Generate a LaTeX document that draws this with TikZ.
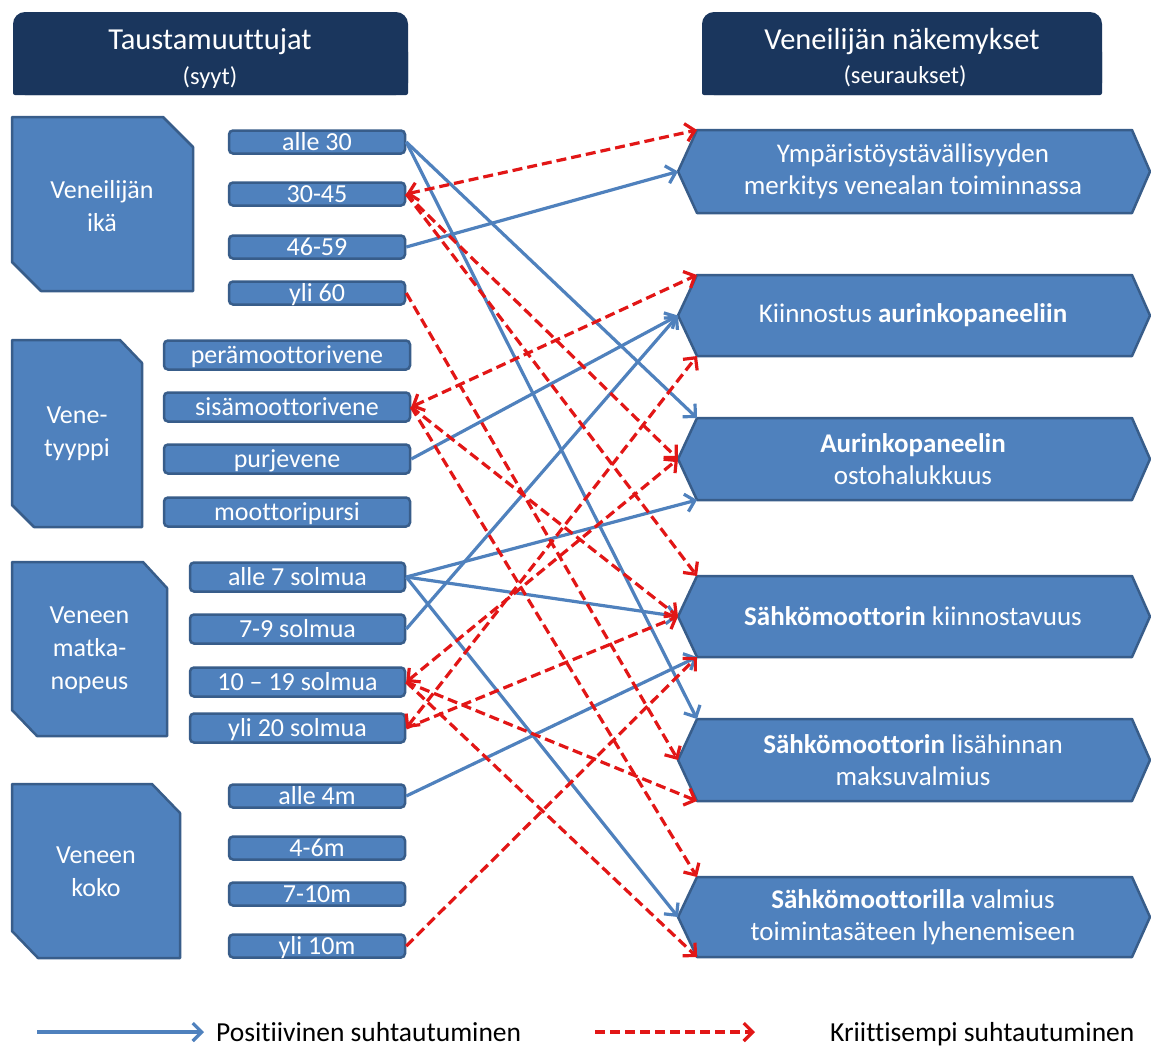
\documentclass[tikz,border=0pt]{standalone}
\usepackage{fontspec}
\setmainfont{Carlito}[Ligatures=CommonOff]
\usetikzlibrary{arrows.meta}
\definecolor{boxblue}{RGB}{79,129,189}
\definecolor{boxedge}{RGB}{56,93,138}
\definecolor{navyfill}{RGB}{26,54,93}
\definecolor{linkblue}{RGB}{79,129,189}
\definecolor{linkred}{RGB}{226,22,22}
\newcommand{\chevbox}[4]{%
  \pgfmathsetmacro\chevmid{(#2+#3)/2}%
  \filldraw[rshape] (678,\chevmid) -- (697,#2) -- (1132,#2) -- (1150,\chevmid) -- (1132,#3) -- (697,#3) -- cycle;
  \coordinate (#1tl) at (697,#2);
  \coordinate (#1tip) at (678,\chevmid);
  \coordinate (#1bl) at (697,#3);
  \node[rtext] (#1) at (913,\chevmid) {#4};%
}
\begin{document}
\begin{tikzpicture}[x=1pt,y=-1pt,
  hdrfill/.style={fill=navyfill},
  hdrmain/.style={text=white,font=\fontsize{30.5}{36}\selectfont,anchor=base},
  hdrsub/.style={text=white,font=\fontsize{24.5}{29}\selectfont,anchor=base},
  catshape/.style={fill=boxblue,draw=boxedge,line width=2.5pt,line join=round},
  cattext/.style={text=white,font=\fontsize{26}{33}\selectfont,align=center,inner sep=0pt},
  item/.style={draw=boxedge,line width=2.5pt,fill=boxblue,rounded corners=4pt,text=white,
    font=\fontsize{26}{30}\selectfont,inner sep=0pt,text height=16.5pt,text depth=0pt},
  rshape/.style={fill=boxblue,draw=boxedge,line width=2.5pt,line join=round},
  rtext/.style={text=white,font=\fontsize{27}{32}\selectfont,align=center,inner sep=0pt},
  tipa/.tip={Straight Barb[length=9pt,width=18pt]},
  poslink/.style={draw=linkblue,line width=3.2pt,-tipa},
  neglink/.style={draw=linkred,line width=3.2pt,dash pattern=on 10pt off 5pt,-tipa},
  negboth/.style={draw=linkred,line width=3.2pt,dash pattern=on 10pt off 5pt,tipa-tipa},
  legtext/.style={text=black,font=\fontsize{27.5}{32}\selectfont,anchor=west,inner sep=0pt,text height=17pt,text depth=0pt}
]
\fill[white] (0,0) rectangle (1151,1047);
\useasboundingbox (0,0) rectangle (1151,1047);

% headers
\fill[hdrfill,rounded corners=12pt] (13,12) rectangle (408,95);
\fill[hdrfill,rounded corners=2pt] (13,50) rectangle (408,95);
\node[hdrmain] (hdrL) at (210,49) {Taustamuuttujat};
\node[hdrsub] (hdrLs) at (210,84) {(syyt)};
\fill[hdrfill,rounded corners=12pt] (702,12) rectangle (1102,95);
\fill[hdrfill,rounded corners=2pt] (702,50) rectangle (1102,95);
\node[hdrmain] (hdrR) at (902,49) {Veneilijän näkemykset};
\node[hdrsub] (hdrRs) at (905,83) {(seuraukset)};

% category boxes
\filldraw[catshape] (12,117) -- (163,117) -- (193,147) -- (193,291) -- (41,291) -- (12,262) -- cycle;
\node[cattext] (cat1) at (102,206) {Veneilijän\\ikä};
\filldraw[catshape] (12,340) -- (120,340) -- (142,363) -- (142,527) -- (34,527) -- (12,505) -- cycle;
\node[cattext] (cat2) at (77,434) {Vene-\\tyyppi};
\filldraw[catshape] (12,562) -- (143,562) -- (167,588) -- (167,736) -- (37,736) -- (12,710) -- cycle;
\node[cattext] (cat3) at (89.5,650) {Veneen\\matka-\\nopeus};
\filldraw[catshape] (12,784) -- (152,784) -- (180,813) -- (180,958) -- (38,958) -- (12,931) -- cycle;
\node[cattext] (cat4) at (96,872) {Veneen\\koko};

% items
\node[item,minimum width=176pt,minimum height=23pt] (a30) at (317,142) {alle 30};
\node[item,minimum width=176pt,minimum height=23pt] (a3045) at (317,194) {30-45};
\node[item,minimum width=176pt,minimum height=23pt] (a4659) at (317,247) {46-59};
\node[item,minimum width=176pt,minimum height=23pt] (a60) at (317,293) {yli 60};

\node[item,minimum width=246pt,minimum height=29pt] (tpera) at (287,355) {perämoottorivene};
\node[item,minimum width=246pt,minimum height=29pt] (tsisa) at (287,407) {sisämoottorivene};
\node[item,minimum width=246pt,minimum height=29pt] (tpurje) at (287,459) {purjevene};
\node[item,minimum width=246pt,minimum height=29pt] (tmp) at (287,512) {moottoripursi};

\node[item,minimum width=215pt,minimum height=29pt] (s7) at (297.5,577) {alle 7 solmua};
\node[item,minimum width=215pt,minimum height=29pt] (s79) at (297.5,629) {7-9 solmua};
\node[item,minimum width=215pt,minimum height=29pt] (s1019) at (297.5,682) {10 – 19 solmua};
\node[item,minimum width=215pt,minimum height=29pt] (s20) at (297.5,728) {yli 20 solmua};

\node[item,minimum width=176pt,minimum height=23pt] (z4) at (317,796) {alle 4m};
\node[item,minimum width=176pt,minimum height=23pt] (z46) at (317,848) {4-6m};
\node[item,minimum width=176pt,minimum height=23pt] (z710) at (317,894) {7-10m};
\node[item,minimum width=176pt,minimum height=23pt] (z10) at (317,946) {yli 10m};

% right boxes
\chevbox{ra}{130}{213}{Ympäristöystävällisyyden\\merkitys venealan toiminnassa}
\chevbox{rb}{275}{356}{Kiinnostus \textbf{aurinkopaneeliin}}
\chevbox{rc}{418}{500}{\textbf{Aurinkopaneelin}\\ostohalukkuus}
\chevbox{rd}{576}{657}{\textbf{Sähkömoottorin} kiinnostavuus}
\chevbox{re}{719}{801}{\textbf{Sähkömoottorin} lisähinnan\\maksuvalmius}
\chevbox{rf}{877}{957}{\textbf{Sähkömoottorilla} valmius\\toimintasäteen lyhenemiseen}

% positive connectors
\draw[poslink] (a30.east) -- (rctl);
\draw[poslink] (a30.east) -- (retl);
\draw[poslink] (a4659.east) -- (ratip);
\draw[poslink] (tpurje.east) -- (rbtip);
\draw[poslink] (s79.east) -- (rbtip);
\draw[poslink] (s7.east) -- (rcbl);
\draw[poslink] (s7.east) -- (rdtip);
\draw[poslink] (s7.east) -- (rftip);
\draw[poslink] (z4.east) -- (rdbl);

% critical connectors
\draw[negboth] (a3045.east) -- (ratl);
\draw[neglink] (a3045.east) -- (rctip);
\draw[neglink] (a3045.east) -- (rdtl);
\draw[neglink] (a60.east) -- (retip);
\draw[negboth] (tsisa.east) -- (rbtl);
\draw[neglink] (tsisa.east) -- (rdtip);
\draw[neglink] (tsisa.east) -- (rftl);
\draw[negboth] (s1019.east) -- (rctip);
\draw[neglink] (s1019.east) -- (rebl);
\draw[neglink] (s1019.east) -- (rfbl);
\draw[negboth] (s20.east) -- (rbbl);
\draw[neglink] (s20.east) -- (rdtip);
\draw[neglink] (z10.east) -- (rdbl);

% legend
\coordinate (lgb1) at (37,1032);
\coordinate (lgb2) at (204,1032);
\draw[poslink] (lgb1) -- (lgb2);
\node[legtext] (lgbt) at (216,1033) {Positiivinen suhtautuminen};
\coordinate (lgr1) at (595,1032);
\coordinate (lgr2) at (755,1032);
\draw[neglink] (lgr1) -- (lgr2);
\node[legtext] (lgrt) at (830,1033) {Kriittisempi suhtautuminen};
\end{tikzpicture}
\end{document}
